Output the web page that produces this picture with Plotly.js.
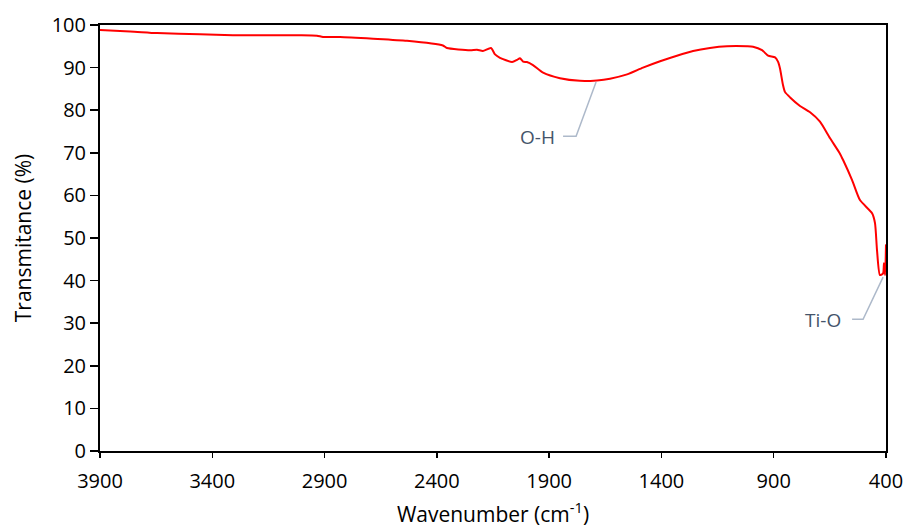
<!DOCTYPE html>
<html>
<head>
<meta charset="utf-8">
<script src="https://cdn.plot.ly/plotly-3.0.1.min.js"></script>
<style>html,body{margin:0;padding:0;background:#fff;}#chart{width:907px;height:530px;}</style>
</head>
<body>
<div id="chart"></div>
<script>
var wavenumber = [3900,3766,3646,3455,3308,3201,3009,2934,2907,2831,2684,2533,2373,2355,2252,2221,2195,2159,2141,2119,2065,2043,2030,2016,1999,1972,1927,1852,1763,1687,1629,1553,1482,1406,1331,1259,1184,1108,1019,992,952,925,894,881,872,859,850,827,783,738,694,649,605,591,551,516,462,449,440,427,413,409,404,400];
var transmittance = [98.8,98.5,98.1,97.8,97.6,97.6,97.6,97.5,97.2,97.2,96.8,96.3,95.2,94.6,94.1,94.2,93.9,94.6,93.1,92.3,91.3,91.8,92.2,91.4,91.3,90.6,88.8,87.5,86.9,87.0,87.4,88.4,90.0,91.5,92.8,93.9,94.6,95.0,95.0,94.9,94.1,92.8,92.4,91.4,89.8,86.0,84.3,83.0,81.0,79.5,77.3,73.4,69.8,68.3,63.6,58.9,55.8,53.5,47.1,41.3,41.7,44.1,41.3,48.5];
var xTicks = [3900,3400,2900,2400,1900,1400,900,400];
var yTicks = [0,10,20,30,40,50,60,70,80,90,100];
var labels = ["O-H","Ti-O"];
var labelX = [1954,681];
var labelY = [73.8,30.7];

var font = "Open Sans, Lato, sans-serif";
var trace = {
  x: wavenumber, y: transmittance, type: "scatter", mode: "lines",
  line: {color: "#ff0000", width: 2, shape: "spline", smoothing: 0.6},
  hoverinfo: "skip", showlegend: false
};
var layout = {
  width: 907, height: 530,
  margin: {l: 100, r: 21, t: 25, b: 79},
  paper_bgcolor: "#ffffff", plot_bgcolor: "#ffffff",
  font: {family: font, size: 20, color: "#000000"},
  xaxis: {
    range: [3900, 400], tickvals: xTicks, ticktext: xTicks.map(String),
    ticks: "outside", ticklen: 5, tickcolor: "#000", tickwidth: 1.5,
    ticklabelstandoff: 6,
    showline: true, linecolor: "#000", linewidth: 2, mirror: true,
    showgrid: false, zeroline: false,
    tickfont: {family: font, size: 20, color: "#000"},
    title: {text: "Wavenumber (cm<sup>-1</sup>)", font: {family: font, size: 21, color: "#000"}, standoff: 14}
  },
  yaxis: {
    range: [0, 100], tickvals: yTicks,
    ticks: "outside", ticklen: 8, tickcolor: "#000", tickwidth: 1.5,
    showline: true, linecolor: "#000", linewidth: 2, mirror: true,
    showgrid: false, zeroline: false,
    tickfont: {family: font, size: 20, color: "#000"},
    title: {text: "Transmitance (%)", font: {family: font, size: 21, color: "#000"}, standoff: 14}
  },
  annotations: labels.map(function(t, i){
    return {x: labelX[i], y: labelY[i], xref: "x", yref: "y", text: t, showarrow: false,
      font: {family: font, size: 19, color: "#44546a"}};
  }),
  shapes: [
    {type: "path", xref: "x", yref: "y", path: "M 1838 73.9 L 1780 73.9 L 1691 86.6", line: {color: "#adb9ca", width: 1.5}},
    {type: "path", xref: "x", yref: "y", path: "M 551 30.9 L 502 30.9 L 413 40.8", line: {color: "#adb9ca", width: 1.5}}
  ]
};
Plotly.newPlot("chart", [trace], layout, {displayModeBar: false, staticPlot: true});
</script>
</body>
</html>
